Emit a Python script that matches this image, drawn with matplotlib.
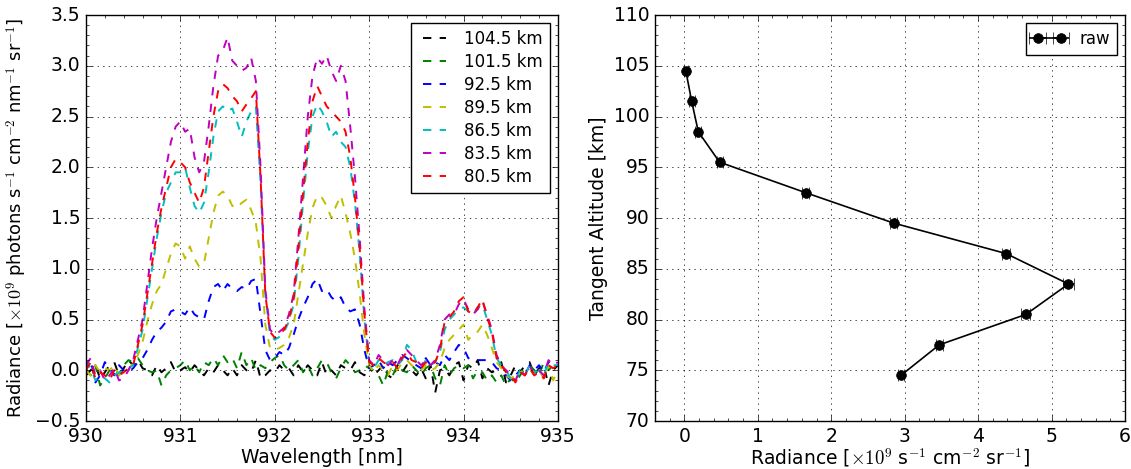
import numpy as np
import matplotlib
matplotlib.use("Agg")
import matplotlib.pyplot as plt
from matplotlib.ticker import AutoMinorLocator

plt.style.use('classic')
plt.rcParams['mathtext.fontset'] = 'cm'
plt.rcParams['font.size'] = 12

# wavelength grid [nm]
wl = np.linspace(930.0, 935.0, 101)

alt_labels = ['104.5 km', '101.5 km', '92.5 km', '89.5 km', '86.5 km', '83.5 km', '80.5 km']
colors = ['k', 'g', 'b', 'y', 'c', 'm', 'r']

rad_104 = [-0.05, 0.00, 0.05, -0.08, -0.02, 0.05, 0.08, -0.05, 0.02, 0.10,
           0.05, 0.10, 0.02, 0.00, -0.05, 0.05, -0.02, 0.02, 0.08, -0.02,
           0.00, 0.03, -0.02, 0.05, 0.00, -0.05, 0.02, -0.02, 0.05, 0.00,
           -0.05, 0.02, -0.05, 0.05, 0.00, -0.02, 0.10, -0.08, -0.05, 0.00,
           -0.02, 0.05, 0.00, 0.02, -0.05, 0.05, -0.02, 0.05, 0.00, -0.05,
           0.08, -0.05, 0.00, -0.05, 0.05, 0.02, 0.00, 0.08, -0.02, -0.05,
           0.05, -0.05, 0.00, 0.05, -0.05, -0.08, 0.05, -0.02, 0.05, 0.00,
           -0.05, 0.02, -0.08, 0.05, -0.22, 0.00, 0.02, -0.05, 0.05, 0.08,
           -0.10, 0.05, 0.02, 0.10, -0.08, 0.02, -0.02, 0.00, 0.08, -0.12,
           -0.05, 0.05, -0.02, 0.05, 0.08, -0.05, 0.02, 0.05, -0.15, 0.00,
           0.05]
rad_101 = [0.00, -0.05, 0.05, -0.15, -0.08, 0.00, 0.02, -0.05, 0.05, 0.10,
           0.08, 0.12, 0.05, 0.00, -0.02, 0.00, -0.15, -0.05, 0.00, 0.02,
           0.05, 0.10, 0.00, 0.05, -0.02, 0.08, 0.05, 0.12, 0.05, 0.15,
           0.08, 0.12, 0.02, 0.18, 0.05, 0.12, 0.00, 0.05, 0.02, 0.08,
           0.12, 0.15, 0.05, 0.00, 0.05, 0.10, -0.02, 0.05, -0.05, 0.02,
           0.10, 0.08, -0.02, -0.08, 0.02, 0.10, 0.05, -0.02, 0.00, 0.05,
           0.02, 0.00, -0.05, -0.15, 0.00, -0.05, 0.05, 0.00, -0.02, 0.05,
           0.00, -0.05, 0.02, 0.05, -0.08, -0.15, 0.05, -0.05, 0.02, 0.05,
           0.02, 0.05, -0.08, 0.00, -0.02, -0.10, -0.05, -0.12, -0.05, -0.15,
           -0.08, -0.12, -0.05, 0.02, 0.05, 0.00, -0.05, 0.08, 0.00, 0.05,
           0.02]
rad_92 = [0.00, 0.10, -0.12, -0.05, 0.08, 0.02, -0.05, 0.05, 0.00, -0.02,
          0.02, 0.08, 0.12, 0.20, 0.30, 0.38, 0.42, 0.48, 0.58, 0.60,
          0.58, 0.55, 0.62, 0.55, 0.52, 0.50, 0.68, 0.82, 0.85, 0.78,
          0.85, 0.80, 0.78, 0.82, 0.80, 0.88, 0.90, 0.55, 0.20, 0.10,
          0.12, 0.18, 0.15, 0.22, 0.35, 0.50, 0.62, 0.72, 0.85, 0.90,
          0.78, 0.80, 0.72, 0.68, 0.72, 0.62, 0.58, 0.60, 0.45, 0.20,
          0.02, 0.05, 0.10, 0.02, 0.08, 0.05, 0.10, 0.15, 0.12, 0.08,
          0.05, 0.02, 0.12, 0.05, 0.08, 0.05, 0.15, 0.10, 0.18, 0.25,
          0.22, 0.12, 0.10, 0.10, 0.10, 0.10, 0.08, 0.02, 0.00, -0.05,
          -0.10, -0.05, 0.00, -0.05, 0.05, 0.00, 0.05, -0.02, 0.08, 0.05,
          0.05]
rad_89 = [0.00, -0.05, 0.05, -0.02, 0.02, 0.00, 0.05, -0.05, 0.00, 0.00,
          0.08, 0.15, 0.28, 0.48, 0.65, 0.78, 0.85, 1.00, 1.15, 1.25,
          1.22, 1.10, 1.22, 1.10, 1.02, 1.05, 1.30, 1.55, 1.72, 1.76,
          1.72, 1.62, 1.60, 1.65, 1.68, 1.58, 1.45, 1.10, 0.45, 0.22,
          0.20, 0.22, 0.25, 0.32, 0.45, 0.75, 1.05, 1.35, 1.60, 1.72,
          1.70, 1.62, 1.50, 1.62, 1.72, 1.55, 1.35, 1.10, 0.75, 0.35,
          0.05, -0.02, 0.05, 0.00, -0.05, 0.05, 0.00, 0.08, 0.10, 0.05,
          0.02, 0.00, 0.05, 0.00, 0.02, 0.08, 0.22, 0.30, 0.35, 0.40,
          0.45, 0.30, 0.35, 0.38, 0.45, 0.35, 0.22, 0.08, 0.02, -0.05,
          -0.08, -0.05, 0.00, -0.05, 0.02, -0.05, 0.00, -0.08, 0.05, -0.10,
          0.00]
rad_86 = [0.10, 0.02, -0.10, -0.05, -0.08, -0.12, -0.05, -0.02, 0.00, 0.02,
          0.05, 0.22, 0.40, 0.70, 1.00, 1.30, 1.55, 1.75, 1.85, 1.95,
          1.95, 2.00, 1.80, 1.62, 1.55, 1.65, 1.95, 2.30, 2.55, 2.60,
          2.55, 2.58, 2.45, 2.30, 2.45, 2.55, 2.60, 1.85, 0.75, 0.35,
          0.30, 0.33, 0.38, 0.48, 0.65, 1.10, 1.65, 2.15, 2.50, 2.62,
          2.55, 2.45, 2.30, 2.35, 2.25, 2.20, 2.00, 1.65, 1.15, 0.50,
          0.08, 0.02, 0.10, 0.05, 0.08, 0.10, 0.05, 0.10, 0.25, 0.20,
          0.08, 0.02, 0.10, 0.05, 0.08, 0.18, 0.40, 0.50, 0.55, 0.60,
          0.62, 0.58, 0.55, 0.62, 0.65, 0.50, 0.35, 0.12, 0.05, 0.00,
          -0.08, -0.10, 0.00, -0.05, 0.05, -0.02, 0.00, -0.05, 0.08, 0.05,
          0.05]
rad_83 = [0.05, 0.12, -0.05, 0.00, -0.10, -0.05, 0.02, -0.10, -0.08, 0.00,
          0.10, 0.30, 0.50, 0.85, 1.20, 1.50, 1.75, 2.00, 2.25, 2.40,
          2.45, 2.35, 2.38, 2.10, 1.95, 2.05, 2.40, 2.80, 3.10, 3.15,
          3.28, 3.05, 3.00, 2.95, 2.98, 3.08, 2.85, 2.00, 0.80, 0.40,
          0.35, 0.38, 0.42, 0.55, 0.75, 1.30, 1.90, 2.50, 2.90, 3.08,
          3.02, 3.10, 2.95, 2.85, 3.00, 2.85, 2.40, 1.90, 1.30, 0.60,
          0.10, 0.05, 0.15, 0.10, 0.05, 0.10, 0.05, 0.15, 0.20, 0.15,
          0.10, 0.05, 0.10, 0.05, 0.10, 0.25, 0.50, 0.55, 0.55, 0.65,
          0.70, 0.60, 0.55, 0.60, 0.68, 0.55, 0.40, 0.15, 0.05, 0.00,
          -0.05, -0.10, 0.00, -0.05, 0.05, -0.05, 0.00, -0.05, 0.10, 0.05,
          0.08]
rad_80 = [0.00, 0.08, -0.08, -0.02, -0.05, -0.10, 0.00, -0.05, -0.02, 0.02,
          0.05, 0.25, 0.45, 0.75, 1.05, 1.35, 1.60, 1.80, 2.00, 2.08,
          2.05, 2.00, 1.85, 1.75, 1.65, 1.80, 2.15, 2.50, 2.75, 2.82,
          2.78, 2.70, 2.65, 2.55, 2.62, 2.68, 2.75, 1.90, 0.75, 0.38,
          0.32, 0.35, 0.40, 0.50, 0.70, 1.20, 1.75, 2.25, 2.65, 2.80,
          2.70, 2.60, 2.55, 2.50, 2.45, 2.35, 2.10, 1.70, 1.20, 0.55,
          0.08, 0.05, 0.12, 0.08, 0.05, 0.08, 0.02, 0.12, 0.18, 0.10,
          0.08, 0.02, 0.08, 0.05, 0.08, 0.20, 0.48, 0.52, 0.58, 0.68,
          0.72, 0.58, 0.55, 0.62, 0.70, 0.52, 0.38, 0.12, 0.05, -0.02,
          -0.05, -0.12, -0.02, -0.05, 0.02, -0.05, -0.02, -0.08, 0.05, 0.02,
          0.05]
spectra = [rad_104, rad_101, rad_92, rad_89, rad_86, rad_83, rad_80]

# integrated profile
tan_alt = [104.5, 101.5, 98.5, 95.5, 92.5, 89.5, 86.5, 83.5, 80.5, 77.5, 74.5]
int_rad = [0.02, 0.10, 0.19, 0.48, 1.65, 2.85, 4.38, 5.23, 4.65, 3.47, 2.95]
int_err = [0.03, 0.04, 0.04, 0.04, 0.05, 0.05, 0.06, 0.08, 0.06, 0.05, 0.04]

fig = plt.figure(figsize=(11.31, 4.69), dpi=100, facecolor='white')
ax1 = fig.add_axes([0.0760, 0.1023, 0.4173, 0.8657])
ax2 = fig.add_axes([0.5791, 0.1023, 0.4156, 0.8657])

for spec, lab, c in zip(spectra, alt_labels, colors):
    ax1.plot(wl, spec, '--', color=c, lw=1.4, label=lab)
ax1.set_xlim(930, 935)
ax1.set_ylim(-0.5, 3.5)
ax1.set_xlabel('Wavelength [nm]', fontsize=13.5, labelpad=2)
ax1.set_ylabel(r'Radiance [$\times 10^9$ photons s$^{-1}$ cm$^{-2}$ nm$^{-1}$ sr$^{-1}$]',
               fontsize=13, labelpad=4)
ax1.legend(loc='upper right', fontsize=12, handlelength=2.0, labelspacing=0.3)
ax1.xaxis.get_major_formatter().set_useOffset(False)

ax2.errorbar(int_rad, tan_alt, xerr=int_err, fmt='o-', color='k', ms=7,
             lw=1.2, capsize=4, label='raw')
ax2.set_xlim(-0.4, 6)
ax2.set_ylim(70, 110)
ax2.set_xlabel(r'Radiance [$\times 10^9$ s$^{-1}$ cm$^{-2}$ sr$^{-1}$]', fontsize=13.5, labelpad=0)
ax2.set_ylabel('Tangent Altitude [km]', fontsize=13.5, labelpad=4)
ax2.legend(loc='upper right', fontsize=12, numpoints=2, handlelength=2.0)

for ax in (ax1, ax2):
    ax.grid(True, linestyle=':', color='k')
    ax.xaxis.set_minor_locator(AutoMinorLocator())
    ax.yaxis.set_minor_locator(AutoMinorLocator())
    ax.tick_params(which='both', direction='in', top=True, right=True, labelsize=13.5)

fig.savefig('out.png', dpi=100, facecolor='white')
